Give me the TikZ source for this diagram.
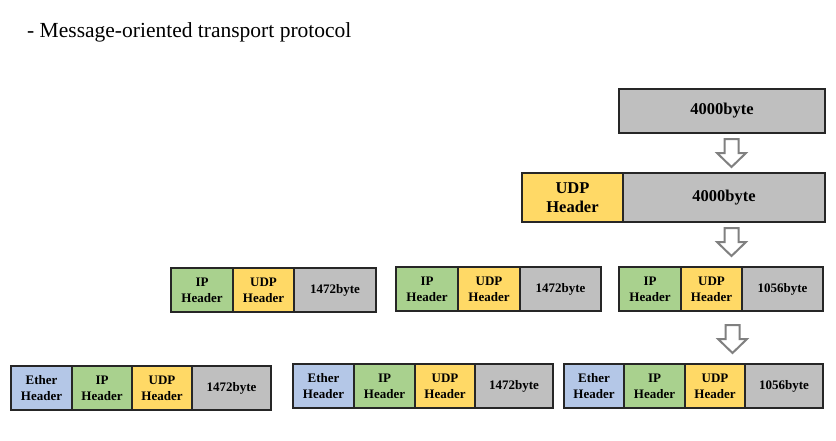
\documentclass[tikz,border=0pt]{standalone}
\usepackage{fontspec}
\setmainfont{Liberation Serif}
\usetikzlibrary{positioning}

\definecolor{paygray}{HTML}{BFBFBF}
\definecolor{udpyellow}{HTML}{FFD966}
\definecolor{ipgreen}{HTML}{A9D18E}
\definecolor{etherblue}{HTML}{B4C7E7}
\definecolor{arrowgray}{HTML}{808080}

\begin{document}
\begin{tikzpicture}
  [x=1pt,y=-1pt,
   seg/.style={rectangle,
               draw=black!85,
               line width=1.2pt,
               outer sep=0pt,
               inner sep=0pt,
               align=center,
               font=\bfseries\fontsize{13}{16}\selectfont,
               minimum height=44pt},
   bigseg/.style={seg,font=\bfseries\fontsize{16.5}{19}\selectfont},
   payload/.style={fill=paygray},
   udphdr/.style={fill=udpyellow},
   iphdr/.style={fill=ipgreen},
   etherhdr/.style={fill=etherblue},
   blockdown/.pic={\draw[arrowgray,line width=2pt,fill=white,line join=miter]
      (-7,0) -- (7,0) -- (7,14) -- (14.5,14) -- (0,28) -- (-14.5,14) -- (-7,14) -- cycle;}]
  \useasboundingbox (0,0) rectangle (836,440);

  \node[anchor=base west,inner sep=0pt,font=\fontsize{21.5}{26}\selectfont] (title) at (27,37)
     {- Message-oriented transport protocol};

  % application data
  \node[bigseg,payload,anchor=north west,minimum width=206pt] (msg) at (619,89) {4000byte};
  \pic at (731.5,139) {blockdown};

  % UDP datagram
  \node[bigseg,udphdr,anchor=north west,minimum width=101pt,minimum height=49pt] (dgudp) at (522,173) {UDP\\Header};
  \node[bigseg,payload,right=0pt of dgudp,minimum width=202pt,minimum height=49pt] (dgdata) {4000byte};
  \pic at (731.5,228) {blockdown};

  % IP fragments
  \node[seg,iphdr,anchor=north west,minimum width=62pt] (fa-ip) at (171,268) {IP\\Header};
  \node[seg,udphdr,right=0pt of fa-ip,minimum width=61pt] (fa-udp) {UDP\\Header};
  \node[seg,payload,right=0pt of fa-udp,minimum width=82pt] (fa-data) {1472byte};

  \node[seg,iphdr,anchor=north west,minimum width=62pt] (fb-ip) at (396,267) {IP\\Header};
  \node[seg,udphdr,right=0pt of fb-ip,minimum width=62pt] (fb-udp) {UDP\\Header};
  \node[seg,payload,right=0pt of fb-udp,minimum width=81pt] (fb-data) {1472byte};

  \node[seg,iphdr,anchor=north west,minimum width=62pt] (fc-ip) at (619,267) {IP\\Header};
  \node[seg,udphdr,right=0pt of fc-ip,minimum width=61pt] (fc-udp) {UDP\\Header};
  \node[seg,payload,right=0pt of fc-udp,minimum width=81pt] (fc-data) {1056byte};
  \pic at (732.5,325) {blockdown};

  % Ethernet frames
  \node[seg,etherhdr,anchor=north west,minimum width=61pt] (ea-eth) at (11,366) {Ether\\Header};
  \node[seg,iphdr,right=0pt of ea-eth,minimum width=60pt] (ea-ip) {IP\\Header};
  \node[seg,udphdr,right=0pt of ea-ip,minimum width=60pt] (ea-udp) {UDP\\Header};
  \node[seg,payload,right=0pt of ea-udp,minimum width=79pt] (ea-data) {1472byte};

  \node[seg,etherhdr,anchor=north west,minimum width=61pt] (eb-eth) at (293,364) {Ether\\Header};
  \node[seg,iphdr,right=0pt of eb-eth,minimum width=61pt] (eb-ip) {IP\\Header};
  \node[seg,udphdr,right=0pt of eb-ip,minimum width=60pt] (eb-udp) {UDP\\Header};
  \node[seg,payload,right=0pt of eb-udp,minimum width=78pt] (eb-data) {1472byte};

  \node[seg,etherhdr,anchor=north west,minimum width=60pt] (ec-eth) at (564,364) {Ether\\Header};
  \node[seg,iphdr,right=0pt of ec-eth,minimum width=61pt] (ec-ip) {IP\\Header};
  \node[seg,udphdr,right=0pt of ec-ip,minimum width=60pt] (ec-udp) {UDP\\Header};
  \node[seg,payload,right=0pt of ec-udp,minimum width=78pt] (ec-data) {1056byte};
\end{tikzpicture}
\end{document}
